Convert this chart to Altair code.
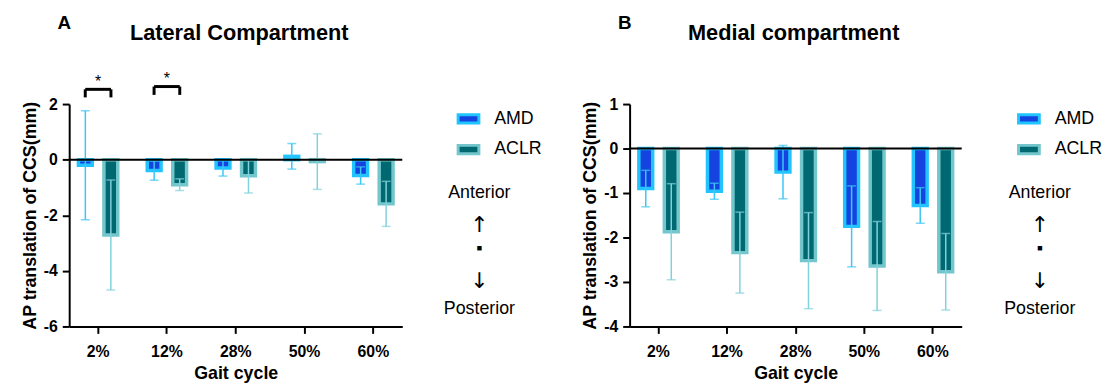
import altair as alt
import pandas as pd

# ---------------- data ----------------
cats = ["2%", "12%", "28%", "50%", "60%"]
groups = ["AMD", "ACLR"]

lat_amd_mean = [-0.20, -0.39, -0.30, 0.12, -0.57]
lat_amd_sd = [1.96, 0.35, 0.29, 0.46, 0.31]
lat_aclr_mean = [-2.71, -0.90, -0.58, -0.07, -1.59]
lat_aclr_sd = [1.98, 0.21, 0.62, 1.00, 0.81]

med_amd_mean = [-0.90, -0.96, -0.53, -1.75, -1.28]
med_amd_sd = [0.41, 0.18, 0.60, 0.91, 0.40]
med_aclr_mean = [-1.87, -2.34, -2.52, -2.64, -2.77]
med_aclr_sd = [1.08, 0.91, 1.08, 1.00, 0.86]

sig_cats = ["2%", "12%"]
sig_level = [2.53, 2.63]
sig_drop = [0.29, 0.30]
sig_label = ["*", "*"]

legend_notes = ["Anterior", "\u2191", "\u25aa", "\u2193", "Posterior"]

# ---------------- styling ----------------
FILL = ["#1443e0", "#006870"]
STROKE = ["#22c4ff", "#72c6cc"]
ERR = ["#3cc6f5", "#80d2dc"]
FONT = "Liberation Sans"


def make_df(am, asd, cm, csd):
    rows = []
    for i, c in enumerate(cats):
        rows.append(dict(cat=c, grp="AMD", mean=am[i], lo=am[i] - asd[i],
                         hi=am[i] + asd[i], ecol=ERR[0]))
        rows.append(dict(cat=c, grp="ACLR", mean=cm[i], lo=cm[i] - csd[i],
                         hi=cm[i] + csd[i], ecol=ERR[1]))
    return pd.DataFrame(rows)


def panel(df, ydom, yticks, title, letter, width, title_x, with_sig=False):
    xenc = alt.X("cat:N", sort=cats,
                 scale=alt.Scale(paddingInner=0.2, paddingOuter=0.02),
                 axis=alt.Axis(title="Gait cycle", labelAngle=0))
    xoff = alt.XOffset("grp:N", sort=groups,
                       scale=alt.Scale(domain=groups, paddingInner=0.457, paddingOuter=0.308))
    ysc = alt.Scale(domain=ydom, nice=False, zero=False)
    yenc = alt.Y("mean:Q", scale=ysc,
                 axis=alt.Axis(title="AP translation of CCS(mm)", values=yticks,
                               labelExpr="replace(datum.label, '\u2212', '-')"))

    leg = alt.Legend(title=None, orient="none", legendX=394, legendY=5,
                     symbolType="M-1.25,-0.5H1.25V0.5H-1.25Z", symbolSize=282,
                     symbolStrokeWidth=3, labelFontSize=18, labelFont=FONT,
                     labelColor="black", labelOffset=16, rowPadding=9)
    fill = alt.Fill("grp:N", sort=groups,
                    scale=alt.Scale(domain=groups, range=FILL), legend=leg)
    stroke = alt.Stroke("grp:N", sort=groups,
                        scale=alt.Scale(domain=groups, range=STROKE), legend=leg)

    base = alt.Chart(df)
    bars = base.mark_bar(strokeWidth=3.5).encode(
        x=xenc, xOffset=xoff, y=yenc, fill=fill, stroke=stroke)
    err = base.mark_rule(strokeWidth=1.5).encode(
        x=xenc, xOffset=xoff, y=alt.Y("lo:Q", scale=ysc), y2="hi:Q",
        color=alt.Color("ecol:N", scale=None))
    cap_lo = base.mark_tick(size=9, thickness=1.5, orient="horizontal").encode(
        x=xenc, xOffset=xoff, y=alt.Y("lo:Q", scale=ysc),
        color=alt.Color("ecol:N", scale=None))
    cap_hi = base.mark_tick(size=9, thickness=1.5, orient="horizontal").encode(
        x=xenc, xOffset=xoff, y=alt.Y("hi:Q", scale=ysc),
        color=alt.Color("ecol:N", scale=None))
    zero = alt.Chart(pd.DataFrame({"z": [0]})).mark_rule(
        color="black", strokeWidth=2).encode(y=alt.Y("z:Q", scale=ysc))

    tdf = pd.DataFrame({"t": [title], "l": [letter]})
    ttl = alt.Chart(tdf).mark_text(fontSize=22, fontWeight="bold", font=FONT,
                                   color="black").encode(
        text="t:N", x=alt.value(title_x), y=alt.value(-72))
    let = alt.Chart(tdf).mark_text(fontSize=19, fontWeight="bold", font=FONT,
                                   color="black").encode(
        text="l:N", x=alt.value(-5), y=alt.value(-82))

    notes_y = [90, 122, 147, 179, 207]
    note_layers = []
    for txt, yy in zip(legend_notes, notes_y):
        is_arrow = txt in ("\u2191", "\u2193")
        note_layers.append(
            alt.Chart(pd.DataFrame({"t": [txt]})).mark_text(
                fontSize=22 if is_arrow else 18,
                font="DejaVu Sans" if is_arrow else FONT,
                color="black").encode(
                text="t:N", x=alt.value(415), y=alt.value(yy)))

    layers = [bars, err, cap_lo, cap_hi, zero, ttl, let] + note_layers

    if with_sig:
        sdf = pd.DataFrame({"cat": sig_cats, "top": sig_level,
                            "bot": [a - b for a, b in zip(sig_level, sig_drop)],
                            "star": [a + 0.27 for a in sig_level],
                            "lab": sig_label})
        sx = alt.X("cat:N", sort=cats)
        hline = alt.Chart(sdf).mark_rule(color="black", strokeWidth=3,
                                         xOffset=-13, x2Offset=13).encode(
            x=sx, x2="cat:N", y=alt.Y("top:Q", scale=ysc))
        ltip = alt.Chart(sdf).mark_rule(color="black", strokeWidth=3,
                                        xOffset=-13).encode(
            x=sx, y=alt.Y("top:Q", scale=ysc), y2="bot:Q")
        rtip = alt.Chart(sdf).mark_rule(color="black", strokeWidth=3,
                                        xOffset=13).encode(
            x=sx, y=alt.Y("top:Q", scale=ysc), y2="bot:Q")
        star = alt.Chart(sdf).mark_text(fontSize=16, font=FONT, color="black",
                                        baseline="middle").encode(
            x=sx, y=alt.Y("star:Q", scale=ysc), text="lab:N")
        layers += [hline, ltip, rtip, star]

    return alt.layer(*layers).properties(width=width, height=225)


dfA = make_df(lat_amd_mean, lat_amd_sd, lat_aclr_mean, lat_aclr_sd)
dfB = make_df(med_amd_mean, med_amd_sd, med_aclr_mean, med_aclr_sd)

pA = panel(dfA, [-6, 2], [-6, -4, -2, 0, 2], "Lateral Compartment", "A", 337, 172, True)
pB = panel(dfB, [-4, 1], [-4, -3, -2, -1, 0, 1], "Medial compartment", "B", 336, 166, False)

chart = alt.hconcat(pA, pB, spacing=230, bounds="flush").resolve_scale(
    fill="independent", stroke="independent", x="independent", y="independent"
).properties(
    padding={"left": 21, "top": 12, "right": 5, "bottom": 5}
).configure_view(stroke=None).configure_axis(
    domainColor="black", domainWidth=2, tickColor="black", tickWidth=2,
    tickSize=7, labelFont=FONT, labelFontWeight="bold", labelFontSize=16,
    labelColor="black", labelPadding=5, titleFont=FONT, titleFontWeight="bold",
    titleFontSize=18, titleColor="black", grid=False
).configure_axisY(titlePadding=4).configure_axisX(titlePadding=6, labelPadding=10)

chart.save("out.html", embed_options={"renderer": "svg", "actions": False})
